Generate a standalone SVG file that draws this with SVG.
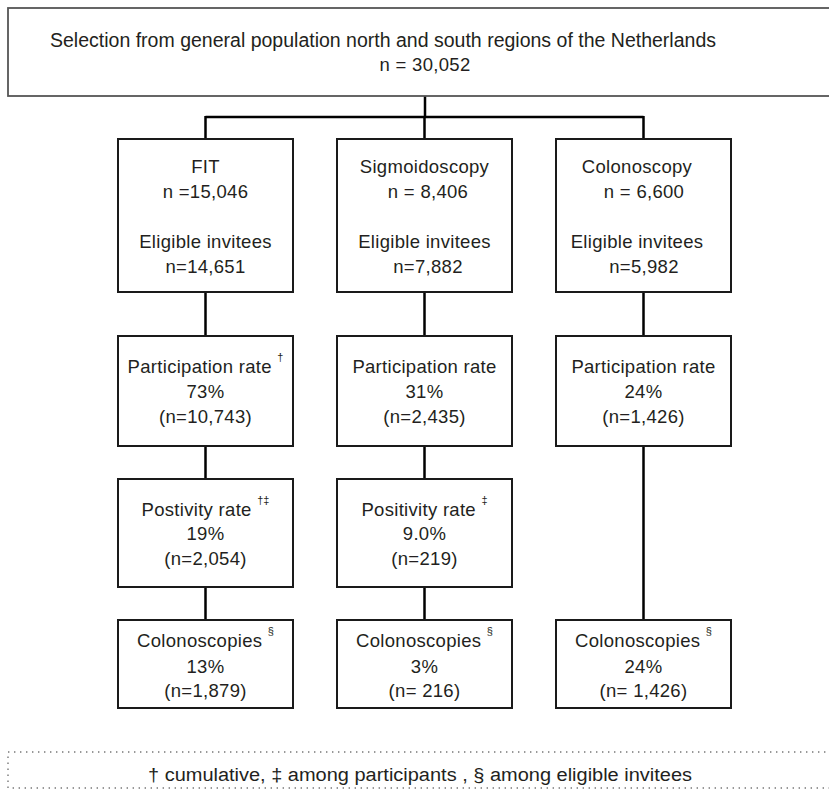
<svg xmlns="http://www.w3.org/2000/svg" width="829" height="789" viewBox="0 0 829 789">
<style>
.bg{fill:#ffffff}
.top{fill:#fff;stroke:#555;stroke-width:1.8}
.box{fill:#fff;stroke:#1a1a1a;stroke-width:2}
.con{stroke:#000;stroke-width:2.5;fill:none}
.t{font-family:"Liberation Sans",Arial,sans-serif;font-size:18.5px;fill:#231f20;text-anchor:middle;letter-spacing:0.3px}
.tt{font-family:"Liberation Sans",Arial,sans-serif;font-size:20px;fill:#231f20}
.sup{font-size:11px;letter-spacing:0}
.leg{fill:none;stroke:#777;stroke-width:1.4;stroke-dasharray:1.4 4.6}
.lt{font-family:"Liberation Sans",Arial,sans-serif;font-size:18px;fill:#231f20}
</style>
<rect class="bg" x="0" y="0" width="829" height="789"/>

<g id="connectors">
<path class="con" d="M425 96V117M205.5 117H643.5M205.5 116V139M424.5 116V139M643.5 116V139"/>
<path class="con" d="M205.5 292V336M205.5 446V479M205.5 587V620"/>
<path class="con" d="M424.5 292V336M424.5 446V479M424.5 587V620"/>
<path class="con" d="M643.5 292V336M643.5 446V620"/>
</g>

<g id="selection">
<rect class="top" x="8" y="8" width="840" height="88"/>
<text class="tt" x="50" y="47" textLength="666" lengthAdjust="spacingAndGlyphs">Selection from general population north and south regions of the Netherlands</text>
<text class="t" x="425" y="71" letter-spacing="0">n = 30,052</text>
</g>

<g id="fit">
<rect class="box" x="118" y="139" width="175" height="153"/>
<text class="t" x="205.5" y="173">FIT</text>
<text class="t" x="205.5" y="198">n =15,046</text>
<text class="t" x="205.5" y="248">Eligible invitees</text>
<text class="t" x="205.5" y="273">n=14,651</text>
</g>
<g id="sigmoidoscopy">
<rect class="box" x="337" y="139" width="175" height="153"/>
<text class="t" x="424.5" y="173">Sigmoidoscopy</text>
<text class="t" x="428" y="198">n = 8,406</text>
<text class="t" x="424.5" y="248">Eligible invitees</text>
<text class="t" x="428" y="273">n=7,882</text>
</g>
<g id="colonoscopy">
<rect class="box" x="556" y="139" width="175" height="153"/>
<text class="t" x="637" y="173">Colonoscopy</text>
<text class="t" x="644" y="198">n = 6,600</text>
<text class="t" x="637" y="248">Eligible invitees</text>
<text class="t" x="644" y="273">n=5,982</text>
</g>

<g id="fit-participation">
<rect class="box" x="118" y="336" width="175" height="110"/>
<text class="t" x="205.5" y="373">Participation rate <tspan class="sup" dy="-12">†</tspan></text>
<text class="t" x="205.5" y="398">73%</text>
<text class="t" x="205.5" y="423">(n=10,743)</text>
</g>
<g id="sig-participation">
<rect class="box" x="337" y="336" width="175" height="110"/>
<text class="t" x="424.5" y="373">Participation rate</text>
<text class="t" x="424.5" y="398">31%</text>
<text class="t" x="424.5" y="423">(n=2,435)</text>
</g>
<g id="col-participation">
<rect class="box" x="556" y="336" width="175" height="110"/>
<text class="t" x="643.5" y="373">Participation rate</text>
<text class="t" x="643.5" y="398">24%</text>
<text class="t" x="643.5" y="423">(n=1,426)</text>
</g>

<g id="fit-positivity">
<rect class="box" x="118" y="479" width="175" height="108"/>
<text class="t" x="205.5" y="516">Postivity rate <tspan class="sup" dy="-12">†‡</tspan></text>
<text class="t" x="205.5" y="540">19%</text>
<text class="t" x="205.5" y="565">(n=2,054)</text>
</g>
<g id="sig-positivity">
<rect class="box" x="337" y="479" width="175" height="108"/>
<text class="t" x="424.5" y="516">Positivity rate <tspan class="sup" dy="-12">‡</tspan></text>
<text class="t" x="424.5" y="540">9.0%</text>
<text class="t" x="424.5" y="565">(n=219)</text>
</g>

<g id="fit-colonoscopies">
<rect class="box" x="118" y="620" width="175" height="88"/>
<text class="t" x="205.5" y="647">Colonoscopies <tspan class="sup" dy="-12">§</tspan></text>
<text class="t" x="205.5" y="673">13%</text>
<text class="t" x="205.5" y="697">(n=1,879)</text>
</g>
<g id="sig-colonoscopies">
<rect class="box" x="337" y="620" width="175" height="88"/>
<text class="t" x="424.5" y="647">Colonoscopies <tspan class="sup" dy="-12">§</tspan></text>
<text class="t" x="424.5" y="673">3%</text>
<text class="t" x="424.5" y="697">(n= 216)</text>
</g>
<g id="col-colonoscopies">
<rect class="box" x="556" y="620" width="175" height="88"/>
<text class="t" x="643.5" y="647">Colonoscopies <tspan class="sup" dy="-12">§</tspan></text>
<text class="t" x="643.5" y="673">24%</text>
<text class="t" x="643.5" y="697">(n= 1,426)</text>
</g>

<g id="legend">
<rect class="leg" x="8" y="752" width="840" height="36"/>
<text class="lt" x="148" y="781" textLength="544" lengthAdjust="spacingAndGlyphs">† cumulative, ‡ among participants , § among eligible invitees</text>
</g>
</svg>
